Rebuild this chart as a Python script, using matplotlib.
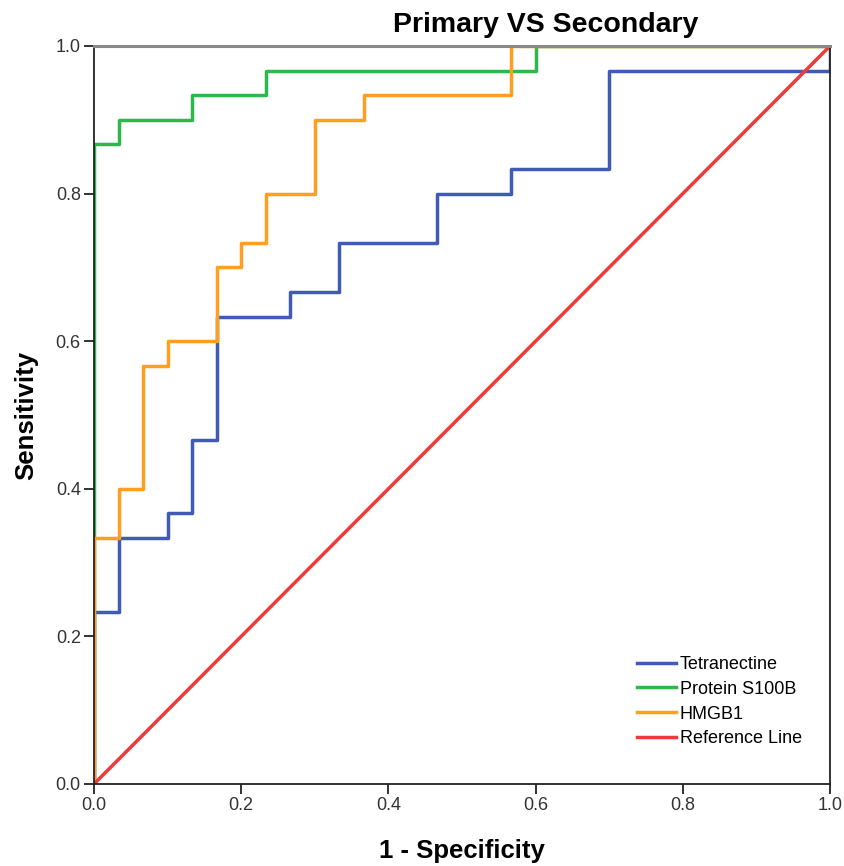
import matplotlib
matplotlib.use("Agg")
import matplotlib.pyplot as plt

plt.rcParams['font.family'] = ['Liberation Sans', 'DejaVu Sans']

# ROC operating points (1 - specificity, sensitivity)
tet_fpr = [0.0, 0.0, 1/30, 3/30, 4/30, 5/30, 8/30, 10/30, 14/30, 17/30, 21/30, 1.0]
tet_tpr = [0.0, 7/30, 10/30, 11/30, 14/30, 19/30, 20/30, 22/30, 24/30, 25/30, 29/30, 1.0]

s100_fpr = [0.0, 0.0, 1/30, 4/30, 7/30, 18/30, 1.0]
s100_tpr = [0.0, 26/30, 27/30, 28/30, 29/30, 1.0, 1.0]

hmgb_fpr = [0.0, 0.0, 1/30, 2/30, 3/30, 5/30, 6/30, 7/30, 9/30, 11/30, 17/30, 1.0]
hmgb_tpr = [0.0, 10/30, 12/30, 17/30, 18/30, 21/30, 22/30, 24/30, 27/30, 28/30, 1.0, 1.0]

ref_x = [0.0, 1.0]
ref_y = [0.0, 1.0]

labels = ["Tetranectine", "Protein S100B", "HMGB1", "Reference Line"]
colors = ["#3F5BB5", "#2DB84B", "#FF9E1F", "#F03A3A"]
ticks = [0.0, 0.2, 0.4, 0.6, 0.8, 1.0]

fig = plt.figure(figsize=(8.44, 8.66), dpi=100)
ax = fig.add_axes([94/844, 82/866, 736/844, 738/866])

lw = 2.5
ax.plot(tet_fpr, tet_tpr, drawstyle='steps-post', color=colors[0], lw=lw, label=labels[0], zorder=3)
ax.plot(s100_fpr, s100_tpr, drawstyle='steps-post', color=colors[1], lw=lw, label=labels[1], zorder=4)
ax.plot(hmgb_fpr, hmgb_tpr, drawstyle='steps-post', color=colors[2], lw=lw, label=labels[2], zorder=5)
ax.plot(ref_x, ref_y, color=colors[3], lw=lw, label=labels[3], zorder=6)

ax.set_xlim(0, 1)
ax.set_ylim(0, 1)
ax.set_xticks(ticks)
ax.set_yticks(ticks)
ax.set_xticklabels([f"{t:.1f}" for t in ticks])
ax.set_yticklabels([f"{t:.1f}" for t in ticks])
ax.tick_params(direction='out', length=7, width=1.3, labelsize=13, colors='#222222', pad=2.5)
for lab in ax.get_xticklabels() + ax.get_yticklabels():
    lab.set_color('#333333')

for side in ['left', 'bottom', 'right']:
    ax.spines[side].set_color('#222222')
    ax.spines[side].set_linewidth(1.3)
    ax.spines[side].set_zorder(10)
ax.spines['top'].set_color('#888888')
ax.spines['top'].set_linewidth(2.2)
ax.spines['top'].set_zorder(10)

ax.set_xlabel("1 - Specificity", fontsize=18.5, fontweight='bold')
ax.set_ylabel("Sensitivity", fontsize=18.5, fontweight='bold')
ax.xaxis.set_label_coords(0.5, -0.074)
ax.yaxis.set_label_coords(-0.076, 0.5)

fig.text(546/844, 1 - 32/866, "Primary VS Secondary", fontsize=20.5, fontweight='bold',
         ha='center', va='baseline')

leg = ax.legend(loc='upper left', bbox_to_anchor=((637 - 94) / 736, (784 - 656) / 738),
                frameon=False, fontsize=13, handlelength=2.15, handletextpad=0.22,
                labelspacing=0.43, borderaxespad=0, borderpad=0)

fig.savefig("out.png", dpi=100)
